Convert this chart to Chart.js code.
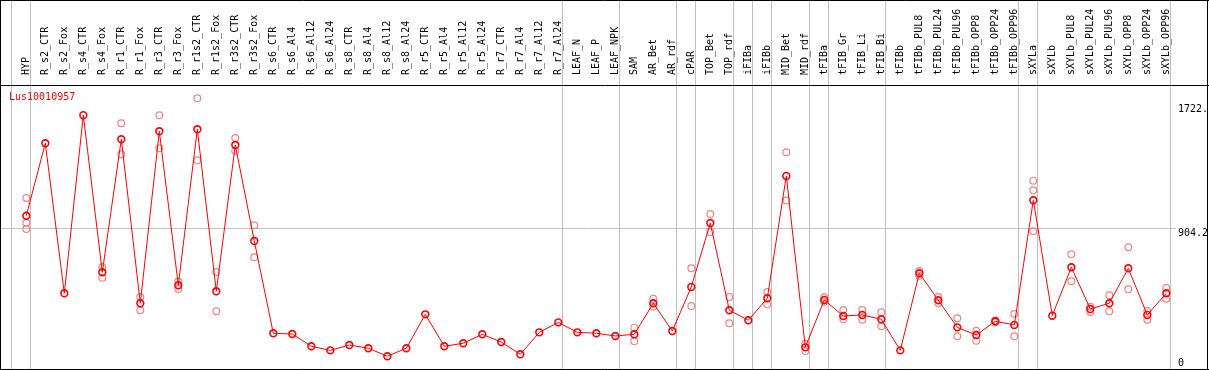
<!DOCTYPE html>
<html>
<head>
<meta charset="utf-8">
<script src="https://cdn.jsdelivr.net/npm/chart.js@4.4.0/dist/chart.umd.min.js"></script>
<style>
  html, body { margin: 0; padding: 0; background: #fff; }
  #wrap { width: 1209px; height: 370px; }
</style>
</head>
<body>
<div id="wrap"><canvas id="exprChart" width="1209" height="370"></canvas></div>
<script>
// Expression profile for one gene across flax samples
const geneId = 'Lus10010957';

const samples = [
    'HYP', 'R_s2_CTR', 'R_s2_Fox', 'R_s4_CTR', 'R_s4_Fox', 'R_r1_CTR', 'R_r1_Fox',
    'R_r3_CTR', 'R_r3_Fox', 'R_r1s2_CTR', 'R_r1s2_Fox', 'R_r3s2_CTR', 'R_r3s2_Fox',
    'R_s6_CTR', 'R_s6_Al4', 'R_s6_Al12', 'R_s6_Al24', 'R_s8_CTR', 'R_s8_Al4', 'R_s8_Al12',
    'R_s8_Al24', 'R_r5_CTR', 'R_r5_Al4', 'R_r5_Al12', 'R_r5_Al24', 'R_r7_CTR', 'R_r7_Al4',
    'R_r7_Al12', 'R_r7_Al24', 'LEAF_N', 'LEAF_P', 'LEAF_NPK', 'SAM', 'AR_Bet', 'AR_rdf',
    'cPAR', 'TOP_Bet', 'TOP_rdf', 'iFIBa', 'iFIBb', 'MID_Bet', 'MID_rdf', 'tFIBa',
    'tFIB_Gr', 'tFIB_Li', 'tFIB_Bi', 'tFIBb', 'tFIBb_PUL8', 'tFIBb_PUL24', 'tFIBb_PUL96',
    'tFIBb_OPP8', 'tFIBb_OPP24', 'tFIBb_OPP96', 'sXYLa', 'sXYLb', 'sXYLb_PUL8',
    'sXYLb_PUL24', 'sXYLb_PUL96', 'sXYLb_OPP8', 'sXYLb_OPP24', 'sXYLb_OPP96'
];

const meanValues = [
    987, 1466, 475, 1651, 614, 1492, 409, 1545, 528, 1558, 488, 1454, 820,
    211, 206, 125, 98, 133, 112, 59, 112, 336, 125, 145, 204, 153, 72, 217, 283,
    217, 211, 193, 204, 409, 226, 517, 939, 363, 297, 442, 1250, 118, 431,
    325, 332, 303, 98, 607, 429, 250, 199, 290, 266, 1089, 327, 647,
    371, 409, 640, 332, 475
];

// replicates (null where hidden behind the mean marker)
const rep1 = [
    1104, null, null, null, 649, 1598, 450, 1651, 552, 1763, 616, 1501, 924,
    null, null, null, null, null, null, null, null, null, null, null, null, null, null, null, null,
    null, null, null, 248, 439, null, 640, 999, 450, null, 483, 1406, 142, 448,
    365, 365, 349, null, 622, 450, 310, 228, 296, 338, 1219, null, 732,
    386, 462, 779, 358, 510
];
const rep2 = [
    941, null, null, null, 578, 1393, 363, 1433, 503, 1353, 356, 1417, 713,
    null, null, null, null, null, null, null, null, null, null, null, null, null, null, null, null,
    null, null, null, 158, 386, null, 391, 880, 277, null, 402, 1087, 94, 419,
    303, 301, 257, null, 591, 409, 191, 162, 284, 191, 1155, null, 554,
    351, 356, 501, 301, 439
];
const rep3 = [
    900, null, null, null, null, null, null, null, null, null, null, null, null,
    null, null, null, null, null, null, null, null, null, null, null, null, null, null, null, null,
    null, null, null, null, null, null, null, null, null, null, null, null, null, null,
    null, null, null, null, null, null, null, null, null, null, 884, null, null,
    null, null, null, null, null
];

// last sample index of each group (a light separator is drawn after it)
const groupEnds = [-1, 0, 28, 31, 34, 35, 37, 38, 39, 41, 42, 45, 52, 53, 60];

const yTicks = [0, 904.2, 1722];
const yTickLabels = ['0', '904.2', '1722.'];

const monoFont = { family: 'DejaVu Sans Mono', size: 10 };

function toPoints(arr) {
    return arr.map((v, i) => ({ x: i, y: v }));
}

const framePlugin = {
    id: 'frame',
    beforeDatasetsDraw(chart) {
        const ctx = chart.ctx;
        const xs = chart.scales.x;
        ctx.save();
        ctx.strokeStyle = '#c0c0c0';
        ctx.lineWidth = 1;
        groupEnds.forEach(e => {
            const px = Math.round(xs.getPixelForValue(e + 0.2)) + 0.5;
            ctx.beginPath();
            ctx.moveTo(px, 0);
            ctx.lineTo(px, chart.height);
            ctx.stroke();
        });
        ctx.restore();
    },
    afterDraw(chart) {
        const ctx = chart.ctx;
        const ys = chart.scales.y;
        ctx.save();
        // outer frame and header separator
        ctx.strokeStyle = '#000';
        ctx.lineWidth = 1;
        ctx.beginPath();
        ctx.moveTo(0.5, 0); ctx.lineTo(0.5, 370);
        ctx.moveTo(1207.5, 0); ctx.lineTo(1207.5, 370);
        ctx.moveTo(0, 0.5); ctx.lineTo(1209, 0.5);
        ctx.moveTo(0, 369.5); ctx.lineTo(1209, 369.5);
        ctx.moveTo(0, 85.5); ctx.lineTo(1209, 85.5);
        ctx.stroke();

        ctx.font = '10px "DejaVu Sans Mono"';
        ctx.textBaseline = 'top';
        ctx.textAlign = 'left';

        ctx.fillStyle = '#ff0000';
        ctx.fillText(geneId, 9, 92);

        ctx.fillStyle = '#000';
        yTicks.forEach((v, i) => {
            let py = ys.getPixelForValue(v);
            py = Math.min(py, 358);
            ctx.fillText(yTickLabels[i], 1178, py);
        });
        ctx.restore();
    }
};

const repStyle = {
    showLine: false,
    pointRadius: 3.4,
    pointBorderWidth: 1.2,
    pointBorderColor: '#f08585',
    pointBackgroundColor: 'rgba(0,0,0,0)',
    order: 2
};

new Chart(document.getElementById('exprChart').getContext('2d'), {
    type: 'line',
    data: {
        datasets: [
            {
                label: geneId,
                data: toPoints(meanValues),
                borderColor: '#ff0000',
                borderWidth: 1,
                tension: 0,
                pointRadius: 3.4,
                pointBorderWidth: 1.6,
                pointBorderColor: '#ff0000',
                pointBackgroundColor: 'rgba(0,0,0,0)',
                order: 1
            },
            Object.assign({ label: 'rep1', data: toPoints(rep1) }, repStyle),
            Object.assign({ label: 'rep2', data: toPoints(rep2) }, repStyle),
            Object.assign({ label: 'rep3', data: toPoints(rep3) }, repStyle)
        ]
    },
    options: {
        responsive: false,
        animation: false,
        devicePixelRatio: 1,
        spanGaps: false,
        layout: { autoPadding: false, padding: { left: 1, right: 0, top: 0, bottom: 1 } },
        plugins: {
            legend: { display: false },
            tooltip: { enabled: false }
        },
        scales: {
            x: {
                type: 'linear',
                position: 'top',
                min: -1.332,
                max: 60.51,
                afterBuildTicks: s => { s.ticks = samples.map((_, i) => ({ value: i })); },
                afterFit: s => {
                    s.height = 86;
                    s.paddingLeft = 0;
                    s.paddingRight = 0;
                },
                grid: { display: false },
                border: { display: false },
                ticks: {
                    autoSkip: false,
                    minRotation: 90,
                    maxRotation: 90,
                    padding: 3,
                    labelOffset: 12,
                    color: '#000',
                    font: monoFont,
                    callback: v => samples[v]
                }
            },
            y: {
                position: 'right',
                min: -25.1,
                max: 1844,
                afterBuildTicks: s => { s.ticks = yTicks.map(v => ({ value: v })); },
                afterFit: s => {
                    s.width = 33;
                    s.paddingTop = 0;
                    s.paddingBottom = 0;
                },
                grid: {
                    drawTicks: false,
                    color: c => (c.tick && c.tick.value === 904.2) ? '#c0c0c0' : 'rgba(0,0,0,0)'
                },
                border: { display: false },
                ticks: { display: false }
            }
        }
    },
    plugins: [framePlugin]
});
</script>
</body>
</html>
